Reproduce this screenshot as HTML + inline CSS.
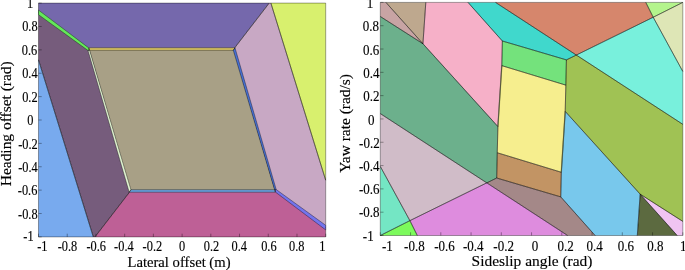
<!DOCTYPE html>
<html><head><meta charset="utf-8"><style>
html,body{margin:0;padding:0;background:#fff;}
body{width:685px;height:270px;overflow:hidden;}
svg{display:block;will-change:transform;}
text{font-family:"Liberation Serif",serif;fill:#000;stroke:#000;stroke-width:0.15px;}
</style></head><body>
<svg width="685" height="270" viewBox="0 0 685 270">
<g shape-rendering="geometricPrecision">
<polygon points="38.50,3.10 269.20,3.10 233.90,48.85 88.80,48.85 38.50,12.30" fill="#7568ac"/>
<polygon points="269.20,3.10 270.90,3.10 325.70,180.20 325.70,227.70 275.40,191.15 233.90,48.85" fill="#c8a8c4"/>
<polygon points="270.90,3.10 325.70,3.10 325.70,180.20" fill="#d8f06e"/>
<polygon points="88.80,48.85 233.90,48.85 275.40,191.15 130.30,191.15" fill="#a8a086"/>
<polygon points="95.00,236.90 93.30,236.90 38.50,59.80 38.50,12.30 88.80,48.85 130.30,191.15" fill="#765c7c"/>
<polygon points="93.30,236.90 38.50,236.90 38.50,59.80" fill="#78aaee"/>
<polygon points="325.70,236.90 95.00,236.90 130.30,191.15 275.40,191.15 325.70,227.70" fill="#be6096"/>
<g stroke="#000" stroke-opacity="0.45" stroke-width="0.8" stroke-linejoin="round">
<polygon points="38.50,3.10 269.20,3.10 233.90,48.85 88.80,48.85 38.50,12.30" fill="none"/>
<polygon points="269.20,3.10 270.90,3.10 325.70,180.20 325.70,227.70 275.40,191.15 233.90,48.85" fill="none"/>
<polygon points="270.90,3.10 325.70,3.10 325.70,180.20" fill="none"/>
<polygon points="88.80,48.85 233.90,48.85 275.40,191.15 130.30,191.15" fill="none"/>
<polygon points="95.00,236.90 93.30,236.90 38.50,59.80 38.50,12.30 88.80,48.85 130.30,191.15" fill="none"/>
<polygon points="93.30,236.90 38.50,236.90 38.50,59.80" fill="none"/>
<polygon points="325.70,236.90 95.00,236.90 130.30,191.15 275.40,191.15 325.70,227.70" fill="none"/>
</g>
<polygon points="38.50,10.10 88.90,48.00 88.90,50.20 88.00,50.50 38.50,14.70" fill="#64e85a"/>
<polygon points="325.70,229.90 275.30,192.00 275.30,189.80 276.20,189.50 325.70,225.30" fill="#7474ec"/>
<polygon points="88.90,47.80 235.00,47.80 233.30,50.30 89.60,50.30" fill="#d8c464"/>
<polygon points="275.30,192.20 129.20,192.20 130.90,189.70 274.60,189.70" fill="#68a0dc"/>
<polygon points="89.60,50.30 130.90,189.70 129.20,192.20 88.00,50.50" fill="#e2f4d2"/>
<polygon points="274.60,189.70 233.30,50.30 235.00,47.80 276.20,189.50" fill="#4870d2"/>
<g stroke="#000" stroke-opacity="0.45" stroke-width="0.8" stroke-linejoin="round">
<polygon points="38.50,10.10 88.90,48.00 88.90,50.20 88.00,50.50 38.50,14.70" fill="none"/>
<polygon points="325.70,229.90 275.30,192.00 275.30,189.80 276.20,189.50 325.70,225.30" fill="none"/>
<polygon points="88.90,47.80 235.00,47.80 233.30,50.30 89.60,50.30" fill="none"/>
<polygon points="275.30,192.20 129.20,192.20 130.90,189.70 274.60,189.70" fill="none"/>
<polygon points="89.60,50.30 130.90,189.70 129.20,192.20 88.00,50.50" fill="none"/>
<polygon points="274.60,189.70 233.30,50.30 235.00,47.80 276.20,189.50" fill="none"/>
</g>
<polygon points="380.30,2.40 385.90,2.40 422.95,43.75 380.30,16.50" fill="#c8a4a4"/>
<polygon points="682.80,235.50 677.20,235.50 640.15,194.15 682.80,221.40" fill="#f0c4f2"/>
<polygon points="385.90,2.40 425.80,2.40 422.95,43.75" fill="#bea88e"/>
<polygon points="677.20,235.50 637.30,235.50 640.15,194.15" fill="#5c6a40"/>
<polygon points="425.80,2.40 468.00,2.40 502.35,41.00 501.80,65.65 497.90,126.55 422.95,43.75" fill="#f6b0c8"/>
<polygon points="637.30,235.50 595.10,235.50 560.75,196.90 561.30,172.25 565.20,111.35 640.15,194.15" fill="#78c8ec"/>
<polygon points="468.00,2.40 495.50,2.40 576.35,55.05 566.40,59.90 502.35,41.00" fill="#40d8cc"/>
<polygon points="595.10,235.50 567.60,235.50 486.75,182.85 496.70,178.00 560.75,196.90" fill="#a48888"/>
<polygon points="495.50,2.40 645.80,2.40 653.20,17.25 576.35,55.05" fill="#d6866c"/>
<polygon points="567.60,235.50 417.30,235.50 409.90,220.65 486.75,182.85" fill="#de8cde"/>
<polygon points="645.80,2.40 682.80,2.40 653.20,17.25" fill="#b4f48c"/>
<polygon points="417.30,235.50 380.30,235.50 409.90,220.65" fill="#7cfa5c"/>
<polygon points="653.20,17.25 682.80,2.40 682.80,71.45" fill="#dee6b6"/>
<polygon points="409.90,220.65 380.30,235.50 380.30,166.45" fill="#74e6c4"/>
<polygon points="576.35,55.05 653.20,17.25 682.80,71.45 682.80,124.30" fill="#78f0dc"/>
<polygon points="486.75,182.85 409.90,220.65 380.30,166.45 380.30,113.60" fill="#d0bcc8"/>
<polygon points="502.35,41.00 566.40,59.90 565.85,85.15 501.80,65.65" fill="#74e27c"/>
<polygon points="560.75,196.90 496.70,178.00 497.25,152.75 561.30,172.25" fill="#c29464"/>
<polygon points="380.30,16.50 422.95,43.75 497.90,126.55 497.25,152.75 496.70,178.00 486.75,182.85 380.30,113.60" fill="#6cb08c"/>
<polygon points="682.80,221.40 640.15,194.15 565.20,111.35 565.85,85.15 566.40,59.90 576.35,55.05 682.80,124.30" fill="#a0c254"/>
<polygon points="501.80,65.65 565.85,85.15 565.20,111.35 561.30,172.25 497.25,152.75 497.90,126.55" fill="#f6ee8e"/>
<g stroke="#000" stroke-opacity="0.45" stroke-width="0.8" stroke-linejoin="round">
<polygon points="380.30,2.40 385.90,2.40 422.95,43.75 380.30,16.50" fill="none"/>
<polygon points="682.80,235.50 677.20,235.50 640.15,194.15 682.80,221.40" fill="none"/>
<polygon points="385.90,2.40 425.80,2.40 422.95,43.75" fill="none"/>
<polygon points="677.20,235.50 637.30,235.50 640.15,194.15" fill="none"/>
<polygon points="425.80,2.40 468.00,2.40 502.35,41.00 501.80,65.65 497.90,126.55 422.95,43.75" fill="none"/>
<polygon points="637.30,235.50 595.10,235.50 560.75,196.90 561.30,172.25 565.20,111.35 640.15,194.15" fill="none"/>
<polygon points="468.00,2.40 495.50,2.40 576.35,55.05 566.40,59.90 502.35,41.00" fill="none"/>
<polygon points="595.10,235.50 567.60,235.50 486.75,182.85 496.70,178.00 560.75,196.90" fill="none"/>
<polygon points="495.50,2.40 645.80,2.40 653.20,17.25 576.35,55.05" fill="none"/>
<polygon points="567.60,235.50 417.30,235.50 409.90,220.65 486.75,182.85" fill="none"/>
<polygon points="645.80,2.40 682.80,2.40 653.20,17.25" fill="none"/>
<polygon points="417.30,235.50 380.30,235.50 409.90,220.65" fill="none"/>
<polygon points="653.20,17.25 682.80,2.40 682.80,71.45" fill="none"/>
<polygon points="409.90,220.65 380.30,235.50 380.30,166.45" fill="none"/>
<polygon points="576.35,55.05 653.20,17.25 682.80,71.45 682.80,124.30" fill="none"/>
<polygon points="486.75,182.85 409.90,220.65 380.30,166.45 380.30,113.60" fill="none"/>
<polygon points="502.35,41.00 566.40,59.90 565.85,85.15 501.80,65.65" fill="none"/>
<polygon points="560.75,196.90 496.70,178.00 497.25,152.75 561.30,172.25" fill="none"/>
<polygon points="380.30,16.50 422.95,43.75 497.90,126.55 497.25,152.75 496.70,178.00 486.75,182.85 380.30,113.60" fill="none"/>
<polygon points="682.80,221.40 640.15,194.15 565.20,111.35 565.85,85.15 566.40,59.90 576.35,55.05 682.80,124.30" fill="none"/>
<polygon points="501.80,65.65 565.85,85.15 565.20,111.35 561.30,172.25 497.25,152.75 497.90,126.55" fill="none"/>
</g>
<g stroke="#3a4a20" stroke-opacity="0.35" stroke-width="1.4" fill="none">
<polyline points="501.80,65.65 497.90,126.55"/>
<polyline points="561.30,172.25 565.20,111.35"/>
</g>
</g>
<g stroke="#000" stroke-opacity="0.4" stroke-width="0.9" fill="none">
<line x1="38.50" y1="236.90" x2="38.50" y2="233.70"/>
<line x1="38.50" y1="3.10" x2="41.70" y2="3.10"/>
<line x1="67.22" y1="236.90" x2="67.22" y2="233.70"/>
<line x1="38.50" y1="26.48" x2="41.70" y2="26.48"/>
<line x1="95.94" y1="236.90" x2="95.94" y2="233.70"/>
<line x1="38.50" y1="49.86" x2="41.70" y2="49.86"/>
<line x1="124.66" y1="236.90" x2="124.66" y2="233.70"/>
<line x1="38.50" y1="73.24" x2="41.70" y2="73.24"/>
<line x1="153.38" y1="236.90" x2="153.38" y2="233.70"/>
<line x1="38.50" y1="96.62" x2="41.70" y2="96.62"/>
<line x1="182.10" y1="236.90" x2="182.10" y2="233.70"/>
<line x1="38.50" y1="120.00" x2="41.70" y2="120.00"/>
<line x1="210.82" y1="236.90" x2="210.82" y2="233.70"/>
<line x1="38.50" y1="143.38" x2="41.70" y2="143.38"/>
<line x1="239.54" y1="236.90" x2="239.54" y2="233.70"/>
<line x1="38.50" y1="166.76" x2="41.70" y2="166.76"/>
<line x1="268.26" y1="236.90" x2="268.26" y2="233.70"/>
<line x1="38.50" y1="190.14" x2="41.70" y2="190.14"/>
<line x1="296.98" y1="236.90" x2="296.98" y2="233.70"/>
<line x1="38.50" y1="213.52" x2="41.70" y2="213.52"/>
<line x1="325.70" y1="236.90" x2="325.70" y2="233.70"/>
<line x1="38.50" y1="236.90" x2="41.70" y2="236.90"/>
<line x1="380.30" y1="235.50" x2="380.30" y2="232.30"/>
<line x1="380.30" y1="2.40" x2="383.50" y2="2.40"/>
<line x1="410.55" y1="235.50" x2="410.55" y2="232.30"/>
<line x1="380.30" y1="25.71" x2="383.50" y2="25.71"/>
<line x1="440.80" y1="235.50" x2="440.80" y2="232.30"/>
<line x1="380.30" y1="49.02" x2="383.50" y2="49.02"/>
<line x1="471.05" y1="235.50" x2="471.05" y2="232.30"/>
<line x1="380.30" y1="72.33" x2="383.50" y2="72.33"/>
<line x1="501.30" y1="235.50" x2="501.30" y2="232.30"/>
<line x1="380.30" y1="95.64" x2="383.50" y2="95.64"/>
<line x1="531.55" y1="235.50" x2="531.55" y2="232.30"/>
<line x1="380.30" y1="118.95" x2="383.50" y2="118.95"/>
<line x1="561.80" y1="235.50" x2="561.80" y2="232.30"/>
<line x1="380.30" y1="142.26" x2="383.50" y2="142.26"/>
<line x1="592.05" y1="235.50" x2="592.05" y2="232.30"/>
<line x1="380.30" y1="165.57" x2="383.50" y2="165.57"/>
<line x1="622.30" y1="235.50" x2="622.30" y2="232.30"/>
<line x1="380.30" y1="188.88" x2="383.50" y2="188.88"/>
<line x1="652.55" y1="235.50" x2="652.55" y2="232.30"/>
<line x1="380.30" y1="212.19" x2="383.50" y2="212.19"/>
<line x1="682.80" y1="235.50" x2="682.80" y2="232.30"/>
<line x1="380.30" y1="235.50" x2="383.50" y2="235.50"/>
</g>
<g font-size="14.0">
<g transform="scale(0.8835,1)">
<text x="47.99" y="250.9" text-anchor="middle">-1</text>
<text x="76.40" y="250.9" text-anchor="middle">-0.8</text>
<text x="108.89" y="250.9" text-anchor="middle">-0.6</text>
<text x="140.24" y="250.9" text-anchor="middle">-0.4</text>
<text x="172.50" y="250.9" text-anchor="middle">-0.2</text>
<text x="206.11" y="250.9" text-anchor="middle">0</text>
<text x="239.39" y="250.9" text-anchor="middle">0.2</text>
<text x="270.85" y="250.9" text-anchor="middle">0.4</text>
<text x="304.36" y="250.9" text-anchor="middle">0.6</text>
<text x="335.94" y="250.9" text-anchor="middle">0.8</text>
<text x="364.80" y="250.9" text-anchor="middle">1</text>
<text x="38.03" y="240.80" text-anchor="end">-1</text>
<text x="42.56" y="218.72" text-anchor="end">-0.8</text>
<text x="42.33" y="195.34" text-anchor="end">-0.6</text>
<text x="42.78" y="171.96" text-anchor="end">-0.4</text>
<text x="42.78" y="148.58" text-anchor="end">-0.2</text>
<text x="37.92" y="125.40" text-anchor="end">0</text>
<text x="42.56" y="101.72" text-anchor="end">0.2</text>
<text x="42.56" y="78.44" text-anchor="end">0.4</text>
<text x="42.22" y="55.26" text-anchor="end">0.6</text>
<text x="42.56" y="31.48" text-anchor="end">0.8</text>
<text x="37.69" y="8.40" text-anchor="end">1</text>
</g>
<g transform="scale(0.93,1)">
<text x="416.56" y="250.9" text-anchor="middle">-1</text>
<text x="445.59" y="250.9" text-anchor="middle">-0.8</text>
<text x="477.96" y="250.9" text-anchor="middle">-0.6</text>
<text x="508.82" y="250.9" text-anchor="middle">-0.4</text>
<text x="541.51" y="250.9" text-anchor="middle">-0.2</text>
<text x="575.16" y="250.9" text-anchor="middle">0</text>
<text x="608.28" y="250.9" text-anchor="middle">0.2</text>
<text x="639.46" y="250.9" text-anchor="middle">0.4</text>
<text x="673.12" y="250.9" text-anchor="middle">0.6</text>
<text x="704.73" y="250.9" text-anchor="middle">0.8</text>
<text x="734.73" y="250.9" text-anchor="middle">1</text>
<text x="401.83" y="240.60" text-anchor="end">-1</text>
<text x="408.06" y="217.49" text-anchor="end">-0.8</text>
<text x="408.06" y="194.18" text-anchor="end">-0.6</text>
<text x="408.06" y="170.97" text-anchor="end">-0.4</text>
<text x="408.28" y="147.66" text-anchor="end">-0.2</text>
<text x="402.69" y="124.55" text-anchor="end">0</text>
<text x="407.96" y="100.94" text-anchor="end">0.2</text>
<text x="408.17" y="77.73" text-anchor="end">0.4</text>
<text x="407.74" y="54.82" text-anchor="end">0.6</text>
<text x="407.42" y="31.11" text-anchor="end">0.8</text>
<text x="401.40" y="7.70" text-anchor="end">1</text>
</g>
</g>
<g font-size="15.45">
<text transform="scale(0.95,1)" x="188.42" y="266.6" text-anchor="middle">Lateral offset (m)</text>
<text transform="translate(10.8,123.8) scale(0.95,1) rotate(-90)" text-anchor="middle">Heading offset (rad)</text>
<text x="532" y="266.3" text-anchor="middle">Sideslip angle (rad)</text>
<text transform="translate(350.3,123.4) rotate(-90)" text-anchor="middle">Yaw rate (rad/s)</text>
</g>
</svg>
</body></html>
